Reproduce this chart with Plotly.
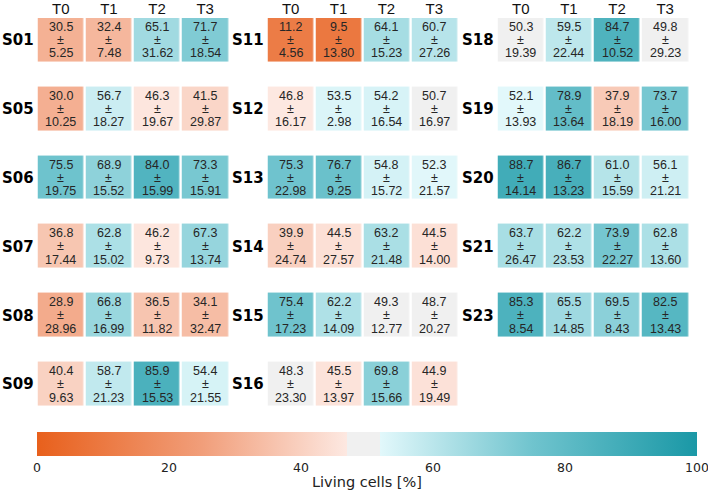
import plotly.graph_objects as go

W, H = 708, 493

timepoints = ["T0", "T1", "T2", "T3"]

g1_labels = ["S01", "S05", "S06", "S07", "S08", "S09"]
g1_mean = [[30.5, 32.4, 65.1, 71.7],
           [30.0, 56.7, 46.3, 41.5],
           [75.5, 68.9, 84.0, 73.3],
           [36.8, 62.8, 46.2, 67.3],
           [28.9, 66.8, 36.5, 34.1],
           [40.4, 58.7, 85.9, 54.4]]
g1_sd = [[5.25, 7.48, 31.62, 18.54],
         [10.25, 18.27, 19.67, 29.87],
         [19.75, 15.52, 15.99, 15.91],
         [17.44, 15.02, 9.73, 13.74],
         [28.96, 16.99, 11.82, 32.47],
         [9.63, 21.23, 15.53, 21.55]]

g2_labels = ["S11", "S12", "S13", "S14", "S15", "S16"]
g2_mean = [[11.2, 9.5, 64.1, 60.7],
           [46.8, 53.5, 54.2, 50.7],
           [75.3, 76.7, 54.8, 52.3],
           [39.9, 44.5, 63.2, 44.5],
           [75.4, 62.2, 49.3, 48.7],
           [48.3, 45.5, 69.8, 44.9]]
g2_sd = [[4.56, 13.80, 15.23, 27.26],
         [16.17, 2.98, 16.54, 16.97],
         [22.98, 9.25, 15.72, 21.57],
         [24.74, 27.57, 21.48, 14.00],
         [17.23, 14.09, 12.77, 20.27],
         [23.30, 13.97, 15.66, 19.49]]

g3_labels = ["S18", "S19", "S20", "S21", "S23"]
g3_mean = [[50.3, 59.5, 84.7, 49.8],
           [52.1, 78.9, 37.9, 73.7],
           [88.7, 86.7, 61.0, 56.1],
           [63.7, 62.2, 73.9, 62.8],
           [85.3, 65.5, 69.5, 82.5]]
g3_sd = [[19.39, 22.44, 10.52, 29.23],
         [13.93, 13.64, 18.19, 16.00],
         [14.14, 13.23, 15.59, 21.21],
         [26.47, 23.53, 22.27, 13.60],
         [8.54, 14.85, 8.43, 13.43]]

cbar_ticks = [0, 20, 40, 60, 80, 100]
cbar_title = "Living cells [%]"

colorscale = [
    [0.00, "rgb(232,96,28)"],
    [0.25, "rgb(241,158,122)"],
    [0.469, "rgb(253,232,225)"],
    [0.470, "rgb(240,240,240)"],
    [0.519, "rgb(240,240,240)"],
    [0.520, "rgb(226,248,251)"],
    [0.75, "rgb(112,196,206)"],
    [1.00, "rgb(26,152,166)"],
]

groups = [(g1_labels, g1_mean, g1_sd), (g2_labels, g2_mean, g2_sd), (g3_labels, g3_mean, g3_sd)]
x_domains_px = [(36.75, 229.25), (266.75, 458.25), (496.75, 689.25)]
y_top_px, y_bot_px = 18, 418.5
yrange = [5.5, -0.5 + (y_top_px - 5.5) / 69.0]

fig = go.Figure()
cell_font = dict(family="Liberation Sans, Arial, sans-serif", size=12.5, color="#262626")

for gi, (labels, means, sds) in enumerate(groups):
    sfx = "" if gi == 0 else str(gi + 1)
    fig.add_trace(go.Heatmap(
        z=means, x=list(range(4)), y=list(range(len(labels))),
        coloraxis="coloraxis", xgap=2.5, ygap=25,
        xaxis="x" + sfx, yaxis="y" + sfx, hoverinfo="skip",
    ))
    x0, x1 = x_domains_px[gi]
    fig.update_layout(**{
        "xaxis" + sfx: dict(domain=[x0 / W, x1 / W], range=[-0.5, 3.5], side="top",
                           tickvals=list(range(4)), ticktext=timepoints, ticks="",
                           showgrid=False, zeroline=False, showline=False, automargin=False,
                           tickfont=dict(family="Liberation Sans, Arial, sans-serif", size=15, color="#111"),
                           anchor="y" + sfx, fixedrange=True),
        "yaxis" + sfx: dict(domain=[1 - y_bot_px / H, 1 - y_top_px / H], range=yrange,
                           tickvals=list(range(len(labels))), ticktext=["<b>%s</b>" % l for l in labels],
                           ticks="", showgrid=False, zeroline=False, showline=False, automargin=False,
                           tickfont=dict(family="DejaVu Sans, sans-serif", size=15, color="#000"),
                           anchor="x" + sfx, fixedrange=True, ticklabelstandoff=2),
    })
    for r in range(len(labels)):
        for c in range(4):
            for txt, shift in (("%.1f" % means[r][c], 13), ("±", 0), ("%.2f" % sds[r][c], -13.5)):
                fig.add_annotation(x=c, y=r, xref="x" + sfx, yref="y" + sfx, text=txt,
                                   showarrow=False, yshift=shift, font=cell_font)

bar_l, bar_r = 37, 697
fig.add_annotation(x=(bar_l + bar_r) / 2 / W, y=1 - 482 / H, xref="paper", yref="paper",
                   text=cbar_title, showarrow=False, yanchor="middle",
                   font=dict(family="DejaVu Sans, sans-serif", size=14.5, color="#222"))

fig.update_layout(
    width=W, height=H,
    margin=dict(l=0, r=0, t=0, b=0),
    paper_bgcolor="white", plot_bgcolor="white",
    coloraxis=dict(
        colorscale=colorscale, cmin=0, cmax=100,
        colorbar=dict(
            orientation="h", x=(bar_l + bar_r) / 2 / W, xanchor="center",
            len=(bar_r - bar_l) / W, lenmode="fraction",
            y=1 - 432 / H, yanchor="top", thickness=24, outlinewidth=0,
            tickvals=cbar_ticks, ticktext=[str(t) for t in cbar_ticks], ticks="",
            ticklabeloverflow="allow",
            tickfont=dict(family="DejaVu Sans, sans-serif", size=12.5, color="#222"),
            xpad=0, ypad=0,
        ),
    ),
    showlegend=False,
)

fig.write_html("out.html", config={"displayModeBar": False},
               post_script="document.body.style.margin='0px';")
